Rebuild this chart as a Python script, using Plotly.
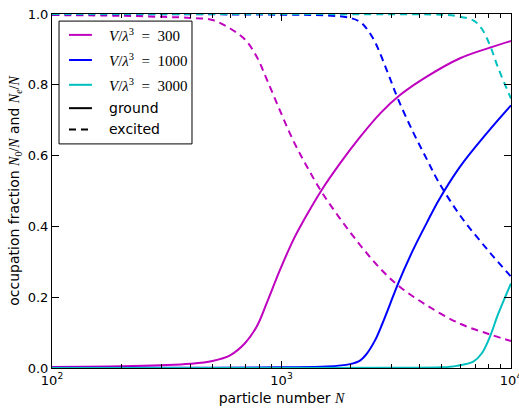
import plotly.graph_objects as go

# Particle numbers N and condensate / excited fractions for each V/lambda^3
n_300 = [100, 200, 300, 400, 500, 597, 693, 780, 862, 985, 1126, 1288, 1497,
         1799, 2197, 2700, 3284, 4295, 6000, 8090, 10000]
ground_300 = [0.003, 0.005, 0.008, 0.012, 0.020, 0.036, 0.070, 0.117, 0.183,
              0.277, 0.362, 0.432, 0.503, 0.578, 0.652, 0.720, 0.771, 0.823,
              0.875, 0.905, 0.924]
excited_300 = [0.997, 0.995, 0.992, 0.989, 0.983, 0.959, 0.928, 0.879, 0.816,
               0.727, 0.642, 0.570, 0.497, 0.422, 0.348, 0.280, 0.229, 0.177,
               0.125, 0.095, 0.076]

n_1000 = [100, 500, 1000, 1574, 1988, 2197, 2350, 2555, 2750, 2950, 3228,
          3753, 4295, 4822, 6000, 7834, 10000]
ground_1000 = [0.001, 0.001, 0.002, 0.004, 0.011, 0.021, 0.040, 0.078, 0.125,
               0.175, 0.240, 0.335, 0.410, 0.472, 0.569, 0.663, 0.742]
excited_1000 = [0.999, 0.999, 0.998, 0.996, 0.989, 0.978, 0.959, 0.921, 0.873,
                0.823, 0.758, 0.665, 0.590, 0.527, 0.431, 0.337, 0.258]

n_3000 = [100, 1000, 3000, 5000, 5798, 6850, 7450, 8090, 8810, 10000]
ground_3000 = [0.000, 0.000, 0.001, 0.002, 0.006, 0.018, 0.041, 0.088, 0.154,
               0.239]
excited_3000 = [1.000, 1.000, 0.999, 0.998, 0.994, 0.982, 0.959, 0.912, 0.846,
                0.761]

series = [
    ("300", "#bf00bf", n_300, ground_300, excited_300),
    ("1000", "#0000ff", n_1000, ground_1000, excited_1000),
    ("3000", "#00bfbf", n_3000, ground_3000, excited_3000),
]

x_ticks = [100, 1000, 10000]
x_tick_text = ["10<sup>2</sup>", "10<sup>3</sup>", "10<sup>4</sup>"]
x_minor = [m * d for d in (100, 1000) for m in range(2, 10)]
y_ticks = [0.0, 0.2, 0.4, 0.6, 0.8, 1.0]
y_tick_text = ["0.0", "0.2", "0.4", "0.6", "0.8", "1.0"]

SERIF = "Liberation Serif"
SANS = "DejaVu Sans"
DASH = "7px,5px"


def m(s):
    return f'<span style="font-family:{SERIF}">{s}</span>'


fig = go.Figure()
for label, color, n, g, e in series:
    fig.add_trace(go.Scatter(x=n, y=g, mode="lines", line=dict(color=color, width=2),
                             line_shape="spline", showlegend=False, hoverinfo="skip"))
    fig.add_trace(go.Scatter(x=n, y=e, mode="lines",
                             line=dict(color=color, width=2, dash=DASH),
                             line_shape="spline", showlegend=False, hoverinfo="skip"))

# Legend drawn in paper coordinates
shapes = [dict(type="rect", xref="paper", yref="paper", x0=0.0153, x1=0.305,
               y0=0.633, y1=0.980, line=dict(color="#000000", width=1),
               fillcolor="white", layer="above")]
annotations = []
rows = [0.941, 0.870, 0.800, 0.734, 0.674]
SP = "&#8194;"
entries = [
    ("#bf00bf", "solid", m(f"<i>V</i>/<i>λ</i><sup>3</sup>{SP}={SP}300")),
    ("#0000ff", "solid", m(f"<i>V</i>/<i>λ</i><sup>3</sup>{SP}={SP}1000")),
    ("#00bfbf", "solid", m(f"<i>V</i>/<i>λ</i><sup>3</sup>{SP}={SP}3000")),
    ("#000000", "solid", "ground"),
    ("#000000", "dash", "excited"),
]
for yr, (col, dash, txt) in zip(rows, entries):
    shapes.append(dict(type="line", xref="paper", yref="paper", x0=0.037, x1=0.087,
                       y0=yr, y1=yr, layer="above",
                       line=dict(color=col, width=2,
                                 dash=DASH if dash == "dash" else "solid")))
    annotations.append(dict(xref="paper", yref="paper", x=0.1198, y=yr, text=txt,
                            showarrow=False, xanchor="left", yanchor="middle",
                            font=dict(family=SANS, size=15 if "λ" in txt else 14,
                                      color="black")))

fig.update_layout(
    width=519, height=409,
    margin=dict(l=52, r=8, t=14, b=41),
    paper_bgcolor="white", plot_bgcolor="white",
    font=dict(family=SANS, size=13, color="black"),
    shapes=shapes, annotations=annotations,
    xaxis=dict(
        type="log", range=[2, 4], automargin=False,
        tickvals=x_ticks, ticktext=x_tick_text,
        ticks="inside", ticklen=7, tickwidth=1, tickcolor="black",
        mirror="allticks", showline=True, linecolor="black", linewidth=1,
        showgrid=False, zeroline=False, ticklabeloverflow="allow",
        tickfont=dict(size=13),
        minor=dict(tickvals=x_minor, ticks="inside", ticklen=4, tickcolor="black",
                   showgrid=False),
        title=dict(text="particle number " + m("<i>N</i>"), font=dict(size=14),
                   standoff=6),
    ),
    yaxis=dict(
        range=[0, 1], automargin=False,
        tickvals=y_ticks, ticktext=y_tick_text,
        ticks="inside", ticklen=7, tickwidth=1, tickcolor="black",
        mirror="allticks", showline=True, linecolor="black", linewidth=1,
        showgrid=False, zeroline=False,
        tickfont=dict(size=13),
        title=dict(text="occupation fraction " + m("<i>N</i><sub>0</sub>/<i>N</i>")
                   + " and " + m("<i>N</i><sub><i>e</i></sub>/<i>N</i>"),
                   font=dict(size=14), standoff=4),
    ),
)

fig.write_html("out.html")
